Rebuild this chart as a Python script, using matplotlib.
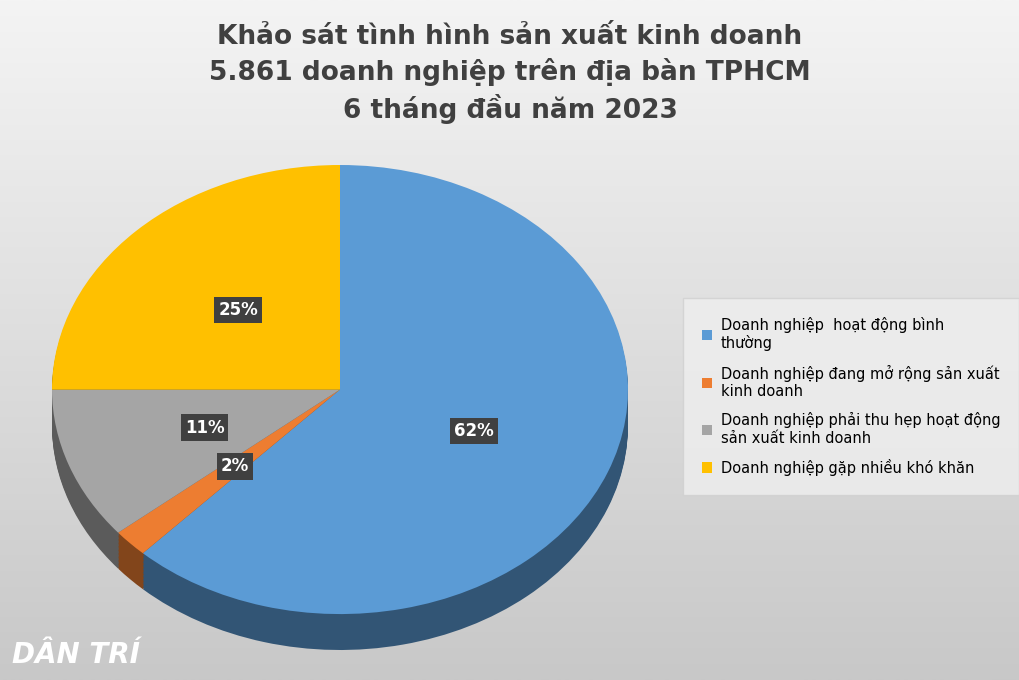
import numpy as np
import matplotlib.pyplot as plt
import matplotlib.colors as mcolors

labels = [
    "Doanh nghiệp  hoạt động bình\nthường",
    "Doanh nghiệp đang mở rộng sản xuất\nkinh doanh",
    "Doanh nghiệp phải thu hẹp hoạt động\nsản xuất kinh doanh",
    "Doanh nghiệp gặp nhiều khó khăn",
]
values = [62, 2, 11, 25]
colors = ["#5b9bd5", "#ed7d31", "#a5a5a5", "#ffc000"]

plt.rcParams["font.family"] = "DejaVu Sans"
fig = plt.figure(figsize=(10.2, 6.8), dpi=100)

# gradient background
bg = fig.add_axes([0, 0, 1, 1])
grad = np.linspace(0, 1, 256).reshape(-1, 1)
cmap = mcolors.LinearSegmentedColormap.from_list("bg", ["#f4f4f4", "#c8c8c8"])
bg.imshow(grad, aspect="auto", cmap=cmap, extent=[0, 1, 0, 1])
bg.axis("off")

fig.text(0.5, 0.965, "Khảo sát tình hình sản xuất kinh doanh\n5.861 doanh nghiệp trên địa bàn TPHCM\n6 tháng đầu năm 2023",
         ha="center", va="top", fontsize=19, fontweight="bold", color="#404040", linespacing=1.35)

ax = fig.add_axes([52 / 1020, 30 / 680, 576 / 1020, 485 / 680])
depth = 0.16
dark = [tuple(np.array(mcolors.to_rgb(c)) * 0.55) for c in colors]
for d in np.linspace(depth, 0.01, 25):
    ax.pie(values, colors=dark, startangle=90, counterclock=False, center=(0, -d),
           wedgeprops=dict(linewidth=0))
wedges, _, autotexts = ax.pie(values, colors=colors, startangle=90, counterclock=False,
                              autopct="%1.0f%%", pctdistance=0.5,
                              wedgeprops=dict(linewidth=0))
for t in autotexts:
    t.set_color("white")
    t.set_fontweight("bold")
    t.set_fontsize(12)
    t.set_bbox(dict(facecolor="#404040", edgecolor="none", pad=3))
ax.set_aspect("auto")
ax.set_xlim(-1, 1)
ax.set_ylim(-1 - depth, 1)

leg = fig.legend(wedges, labels, loc="upper left", bbox_to_anchor=(680 / 1020, 1 - 295 / 680),
                 fontsize=10.5, frameon=True, handlelength=0.7, handleheight=0.7,
                 labelspacing=0.9, borderpad=1.0, handletextpad=0.6)
leg.get_frame().set_facecolor("#efefef")
leg.get_frame().set_edgecolor("#d0d0d0")
leg.get_frame().set_boxstyle("square")

fig.text(0.012, 0.025, "DÂN TRÍ", fontsize=20, fontweight="bold", color="white", style="italic")

fig.savefig("out.png", dpi=100)
